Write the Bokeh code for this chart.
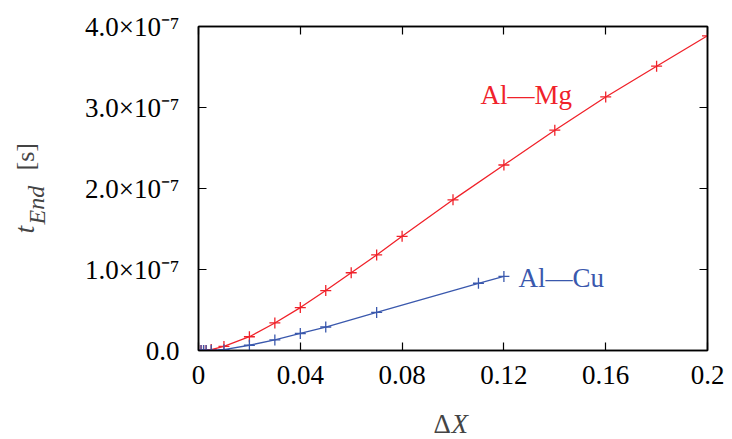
from bokeh.plotting import figure
from bokeh.layouts import row, column
from bokeh.models import Range1d, FixedTicker, CustomJSTickFormatter, LinearAxis, Label
from bokeh.embed import file_html
from bokeh.resources import INLINE

# ---- data ----
mg_x = [0.0, 0.001, 0.002, 0.003, 0.005, 0.01, 0.02, 0.03, 0.04, 0.05, 0.06, 0.07,
        0.08, 0.10, 0.12, 0.14, 0.16, 0.18, 0.20]
mg_t = [0.0, 0.0002e-7, 0.0006e-7, 0.0012e-7, 0.012e-7, 0.05e-7, 0.17e-7, 0.34e-7,
        0.53e-7, 0.74e-7, 0.96e-7, 1.18e-7, 1.41e-7, 1.86e-7, 2.29e-7, 2.72e-7,
        3.13e-7, 3.51e-7, 3.885e-7]
cu_x = [0.0, 0.001, 0.002, 0.003, 0.005, 0.01, 0.02, 0.03, 0.04, 0.05, 0.07, 0.11, 0.12]
cu_t = [0.0, 0.0001e-7, 0.0003e-7, 0.0006e-7, 0.002e-7, 0.01e-7, 0.065e-7, 0.13e-7,
        0.21e-7, 0.29e-7, 0.47e-7, 0.83e-7, 0.915e-7]
x_ticks = [0.0, 0.04, 0.08, 0.12, 0.16, 0.2]
y_ticks = [0.0, 1e-7, 2e-7, 3e-7, 4e-7]

RED = "#f0222a"
BLUE = "#3a58ad"
FONT = "Liberation Serif"

TOTAL_W, TOTAL_H = 730, 439
LEFT_W = 60                       # strip holding the y title
MAIN_H = 398                      # main figure height
BOT_H = TOTAL_H - MAIN_H          # strip holding the x title
FL, FR, FT, FB = 198, 707, 26, 350  # frame edges in page pixels

main_w = TOTAL_W - LEFT_W
p = figure(width=main_w, height=MAIN_H, x_range=Range1d(0, 0.2), y_range=Range1d(0, 4e-7),
           output_backend="svg", toolbar_location=None,
           min_border_left=FL - LEFT_W, min_border_right=TOTAL_W - FR, min_border_top=FT,
           min_border_bottom=MAIN_H - FB)
p.grid.visible = False
p.outline_line_color = "black"
p.outline_line_width = 1.5
p.background_fill_color = "white"
p.border_fill_color = "white"

xfmt = CustomJSTickFormatter(code="""
if (Math.abs(tick) < 1e-12) return "0";
if (Math.abs(tick - 0.2) < 1e-9) return "0.2";
return tick.toFixed(2);
""")
yfmt = CustomJSTickFormatter(code="""
if (Math.abs(tick) < 1e-15) return "0.0";
return (tick * 1e7).toFixed(1) + "\u00d710\u207b\u2077";
""")
blank = CustomJSTickFormatter(code="return '';")

for ax in [p.xaxis[0], p.yaxis[0]]:
    ax.major_tick_in = 8
    ax.major_tick_out = 0
    ax.minor_tick_line_color = None
    ax.axis_line_width = 1.5
    ax.major_tick_line_width = 1.2
    ax.major_label_text_font = FONT
    ax.major_label_text_font_size = "27px"
    ax.major_label_text_color = "black"

p.xaxis[0].ticker = FixedTicker(ticks=x_ticks)
p.xaxis[0].formatter = xfmt
p.xaxis[0].major_label_standoff = 15
p.yaxis[0].ticker = FixedTicker(ticks=y_ticks)
p.yaxis[0].formatter = yfmt
p.yaxis[0].major_label_standoff = 19

top = LinearAxis(ticker=FixedTicker(ticks=x_ticks), formatter=blank, major_tick_in=8,
                 major_tick_out=0, minor_tick_line_color=None, major_label_standoff=0,
                 axis_line_width=1.5, major_tick_line_width=1.2)
right = LinearAxis(ticker=FixedTicker(ticks=y_ticks), formatter=blank, major_tick_in=8,
                   major_tick_out=0, minor_tick_line_color=None, major_label_standoff=0,
                   axis_line_width=1.5, major_tick_line_width=1.2)
p.add_layout(top, "above")
p.add_layout(right, "right")

p.line(mg_x, mg_t, color=RED, line_width=1.3)
p.scatter(mg_x, mg_t, marker="cross", size=11, line_color=RED, line_width=1.3)
p.line(cu_x, cu_t, color=BLUE, line_width=1.3)
p.scatter(cu_x, cu_t, marker="cross", size=11, line_color=BLUE, line_width=1.3)

p.add_layout(Label(x=0.1108, y=3.16e-7, text="Al\u2014Mg", text_color=RED, text_font=FONT,
                   text_font_size="27px", text_baseline="middle", text_align="left"))
p.add_layout(Label(x=0.1257, y=0.90e-7, text="Al\u2014Cu", text_color=BLUE, text_font=FONT,
                   text_font_size="27px", text_baseline="middle", text_align="left"))

# ---- left strip: y title  t_End [s] ----
lf = figure(width=LEFT_W, height=TOTAL_H, x_range=Range1d(0, LEFT_W), y_range=Range1d(0, TOTAL_H),
            output_backend="svg", toolbar_location=None, x_axis_type=None, y_axis_type=None,
            min_border=0, outline_line_color=None)
lf.grid.visible = False
def ly(py):
    return TOTAL_H - py
lf.add_layout(Label(x=24, y=ly(233), text="t", angle=1.5708, text_font=FONT,
                    text_font_style="italic", text_font_size="28px",
                    text_baseline="middle", text_align="left"))
lf.add_layout(Label(x=36, y=ly(224), text="End", angle=1.5708, text_font=FONT,
                    text_font_style="italic", text_font_size="24px",
                    text_baseline="middle", text_align="left"))
lf.add_layout(Label(x=25, y=ly(170), text="[s]", angle=1.5708, text_font=FONT,
                    text_font_size="26px", text_baseline="middle", text_align="left"))

# ---- bottom strip: x title  ΔX (its frame is aligned with the main frame) ----
bf = figure(width=main_w, height=BOT_H, x_range=Range1d(FL, FR), y_range=Range1d(0, BOT_H),
            output_backend="svg", toolbar_location=None, x_axis_type=None, y_axis_type=None,
            min_border=0, outline_line_color=None)
bf.grid.visible = False
bf.add_layout(Label(x=433, y=TOTAL_H - 423, text="\u0394", text_font=FONT,
                    text_font_size="27px", text_baseline="middle", text_align="left"))
bf.add_layout(Label(x=451, y=TOTAL_H - 423, text="X", text_font=FONT,
                    text_font_style="italic", text_font_size="27px",
                    text_baseline="middle", text_align="left"))

layout = row(lf, column(p, bf, spacing=0), spacing=0)
open("out.html", "w").write(file_html(layout, INLINE))
